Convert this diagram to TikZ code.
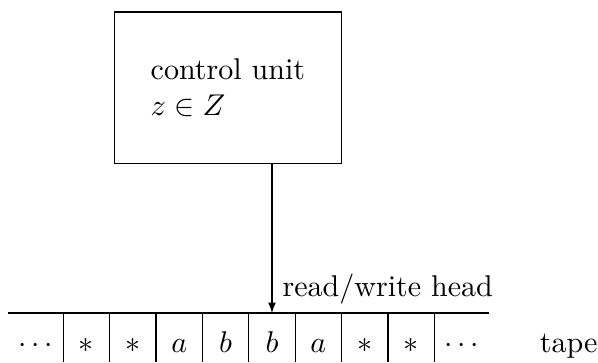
\documentclass[tikz,border=0pt]{standalone}
\usetikzlibrary{arrows.meta,positioning}
\tikzset{
  cell/.style={minimum width=0.529cm, minimum height=0.71cm, inner sep=0pt,
    text height=1.5ex, text depth=0.25ex, anchor=north west},
  unitbox/.style={draw, minimum width=2.65cm, minimum height=1.77cm, align=left},
}
\begin{document}
\begin{tikzpicture}
  \useasboundingbox (0,0) rectangle (7.0,-4.24);

  %% Control unit
  \node[unitbox] (ctrl) at (2.668,-1.025) {control unit\\$z \in Z$};

  %% Tape cells
  \node[cell, minimum width=0.632cm] (c0) at (0.094,-3.665) {$\cdots$};
  \foreach \s [count=\i, remember=\i as \j (initially 0)] in {*,*,a,b,b,a,*,*}
    \node[cell] (c\i) at (c\j.north east) {$\s$};
  \node[cell, minimum width=0.627cm] (c9) at (c8.north east) {$\cdots$};
  \draw (c0.north west) -- (c9.north east);
  \foreach \i in {0,...,8}
    \draw (c\i.north east) -- (c\i.north east |- 0,-4.24);
  \node[right=0.47cm of c9, text height=1.5ex, text depth=0.25ex] (tape) {tape};

  %% Head
  \draw[-{Latex[length=3.5pt, width=2.6pt]}] (ctrl.south -| c5.north) -- (c5.north);
  \node[anchor=base west, inner sep=0pt] (head) at (3.30,-3.47) {read/write head};
\end{tikzpicture}
\end{document}
